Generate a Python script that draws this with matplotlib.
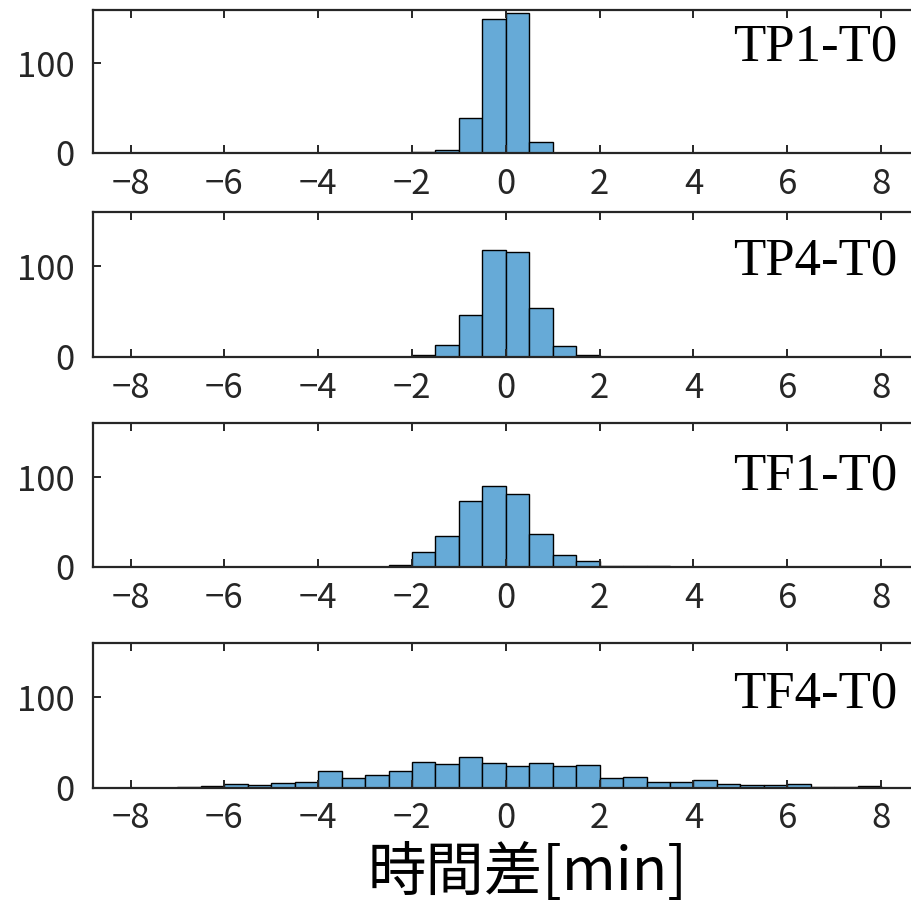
import numpy as np
import matplotlib
matplotlib.use("Agg")
import matplotlib.pyplot as plt

plt.rcParams['font.family'] = ['Noto Sans CJK JP', 'DejaVu Sans']

# histogram bins: -8.5 .. 8.5, width 0.5 (34 bins)
bin_edges = np.arange(-8.5, 8.51, 0.5)

labels = ["TP1-T0", "TP4-T0", "TF1-T0", "TF4-T0"]

tp1_counts = [0, 0, 0, 0, 0, 0, 0, 0, 0, 0, 0, 0, 0, 1, 3, 39, 150,
              157, 12, 0, 0, 0, 0, 0, 0, 0, 0, 0, 0, 0, 0, 0, 0, 0]
tp4_counts = [0, 0, 0, 0, 0, 0, 0, 0, 0, 0, 0, 0, 0, 2, 13, 46, 118,
              116, 54, 12, 2, 0, 0, 0, 0, 0, 0, 0, 0, 0, 0, 0, 0, 0]
tf1_counts = [0, 0, 0, 0, 0, 0, 0, 0, 0, 0, 0, 0, 2, 16, 34, 73, 90,
              81, 37, 13, 6, 1, 1, 1, 0, 0, 0, 0, 0, 0, 0, 0, 0, 0]
tf4_counts = [0, 0, 0, 1, 2, 4, 3, 5, 6, 18, 11, 14, 18, 28, 26, 34, 27,
              24, 27, 24, 25, 10, 12, 6, 6, 8, 4, 3, 3, 4, 1, 1, 2, 0]

all_counts = [tp1_counts, tp4_counts, tf1_counts, tf4_counts]

x_ticks = [-8, -6, -4, -2, 0, 2, 4, 6, 8]
y_ticks = [0, 100]

boxes = [
    [0.102, 0.8313, 0.9053, 0.1577],
    [0.102, 0.6059, 0.9053, 0.1602],
    [0.102, 0.3738, 0.9053, 0.1585],
    [0.102, 0.1298, 0.9053, 0.1600],
]
label_y = [0.645, 0.57, 0.54, 0.552]

axis_color = '#262626'
bar_color = '#66aad7'

fig = plt.figure(figsize=(9.12, 9.05), dpi=100)

centers = (bin_edges[:-1] + bin_edges[1:]) / 2
for i, counts in enumerate(all_counts):
    ax = fig.add_axes(boxes[i])
    ax.hist(centers, bins=bin_edges, weights=counts, color=bar_color,
            edgecolor='black', linewidth=1.0)
    ax.set_xlim(-8.8, 8.8)
    ax.set_ylim(0, 160)
    ax.set_xticks(x_ticks)
    ax.set_yticks(y_ticks)
    ax.tick_params(direction='in', length=6, width=1.4, colors=axis_color,
                   labelsize=25, top=True, right=False, pad=10)
    ax.tick_params(axis='y', pad=13)
    for s in ['left', 'bottom', 'top', 'right']:
        ax.spines[s].set_color(axis_color)
        ax.spines[s].set_linewidth(1.6)
    ax.text(8.35, label_y[i] * 160, labels[i], family='Liberation Serif',
            fontsize=38, ha='right', va='baseline', color='black')

fig.text(0.578, 0.035, "時間差[min]", fontsize=42, ha='center', va='center',
         color='black')

fig.savefig("out.png", dpi=100)
